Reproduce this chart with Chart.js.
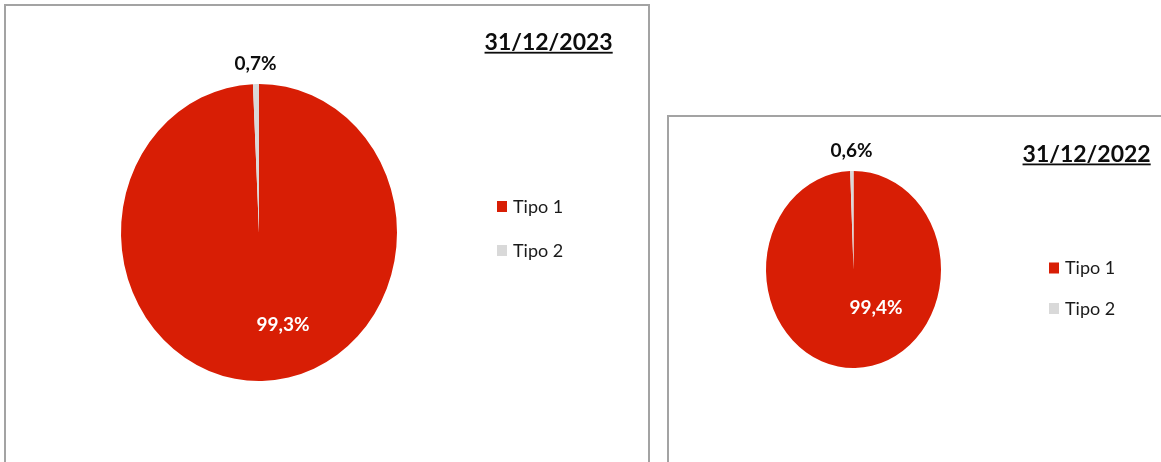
<!DOCTYPE html>
<html><head><meta charset="utf-8">
<script src="https://cdn.jsdelivr.net/npm/chart.js@4.4.0/dist/chart.umd.min.js"></script>
<style>
html,body{margin:0;padding:0;background:#fff;width:1161px;height:462px;overflow:hidden;position:relative;}
.panel{position:absolute;border:2px solid #a3a3a3;box-sizing:border-box;background:#fff;}
#p1{left:4px;top:4px;width:646px;height:480px;}
#p2{left:667px;top:115px;width:520px;height:400px;}
canvas{position:absolute;}
#c1{left:0;top:0;width:660px;height:462px;}
#c2{left:660px;top:0;width:501px;height:462px;}
</style></head><body>
<div class="panel" id="p1"></div><div class="panel" id="p2"></div>
<canvas id="c1" width="660" height="462"></canvas>
<canvas id="c2" width="501" height="462"></canvas>
<script>
// ---- data ----
const categories = ['Tipo 1', 'Tipo 2'];
const values2023 = [99.3, 0.7];
const values2022 = [99.4, 0.6];
const titles = ['31/12/2023', '31/12/2022'];

// ---- styles ----
const sliceColors = ['#d81e05', '#d9d9d9'];
const FONT = 'Lato, "Open Sans", "Liberation Sans", sans-serif';

function fmt(v){ return v.toFixed(1).replace('.', ',') + '%'; }

const ellipsePie = {
  id: 'ellipsePie',
  beforeDatasetsDraw(chart, args, o) {
    const arc = chart.getDatasetMeta(0).data[0];
    const ctx = chart.ctx;
    ctx.save();
    ctx.translate(arc.x, arc.y); ctx.scale(1, o.scaleY); ctx.translate(-arc.x, -arc.y);
  },
  afterDatasetsDraw(chart) { chart.ctx.restore(); },
  afterDraw(chart, args, o) {
    const ctx = chart.ctx;
    const meta = chart.getDatasetMeta(0);
    const ds = chart.data.datasets[0];
    const cap = 0.3585;
    const ls = 19;
    // data labels
    meta.data.forEach((arc, i) => {
      const p = arc.getProps(['x','y','startAngle','endAngle','outerRadius'], true);
      const rx = p.outerRadius, ry = p.outerRadius * o.scaleY;
      const mid = (p.startAngle + p.endAngle) / 2;
      let x, y, color;
      if (i === 0) {
        x = p.x + rx * o.inner[0];
        y = p.y + ry * o.inner[1];
        color = '#ffffff';
      } else {
        x = p.x + Math.cos(mid) * (rx + o.outerGap);
        y = p.y + Math.sin(mid) * (ry + o.outerGap);
        color = '#0d0d0d';
      }
      ctx.save();
      ctx.font = 'bold ' + ls + 'px ' + FONT;
      ctx.fillStyle = color;
      ctx.textAlign = 'center';
      ctx.textBaseline = 'alphabetic';
      ctx.fillText(fmt(ds.data[i]), x, y + ls * cap);
      ctx.restore();
    });
    // legend
    chart.data.labels.forEach((lab, i) => {
      const cy = o.legend.y + i * o.legend.gap;
      ctx.fillStyle = ds.backgroundColor[i];
      ctx.fillRect(o.legend.x, cy - 5.5, 10, 11);
      ctx.fillStyle = '#1a1a1a';
      ctx.font = '18px ' + FONT;
      ctx.textAlign = 'left';
      ctx.textBaseline = 'alphabetic';
      ctx.fillText(lab, o.legend.x + 16, cy + 18 * cap);
    });
    // title (underlined)
    ctx.font = 'bold 23px ' + FONT;
    ctx.fillStyle = '#0d0d0d';
    ctx.textAlign = 'right';
    ctx.textBaseline = 'alphabetic';
    ctx.fillText(o.title.text, o.title.x, o.title.base);
    const w = ctx.measureText(o.title.text).width;
    ctx.fillRect(o.title.x - w, o.title.base + 1.8, w, 1.8);
  }
};

function makeChart(id, values, opts, padding) {
  return new Chart(document.getElementById(id), {
    type: 'pie',
    data: {
      labels: categories,
      datasets: [{ data: values, backgroundColor: sliceColors, borderWidth: 0, hoverOffset: 0 }]
    },
    options: {
      responsive: false,
      animation: false,
      devicePixelRatio: 1,
      events: [],
      layout: { padding },
      plugins: { legend: { display: false }, tooltip: { enabled: false }, ellipsePie: opts }
    },
    plugins: [ellipsePie]
  });
}

function build() {
  makeChart('c1', values2023, {
    scaleY: 1.076, inner: [0.174, 0.62], outerGap: 21,
    legend: { x: 497, y: 206.5, gap: 44 },
    title: { text: titles[0], x: 612.7, base: 50 }
  }, { left: 121, right: 263, top: 94.5, bottom: 91.5 });
  makeChart('c2', values2022, {
    scaleY: 1.126, inner: [0.257, 0.386], outerGap: 21,
    legend: { x: 389, y: 268, gap: 40.5 },
    title: { text: titles[1], x: 490.7, base: 161.7 }
  }, { left: 106, right: 220, top: 182, bottom: 105 });
}

Promise.all([
  document.fonts.load('bold 19px Lato'),
  document.fonts.load('18px Lato'),
  document.fonts.load('bold 23px Lato')
]).then(build, build);
</script>
</body></html>
